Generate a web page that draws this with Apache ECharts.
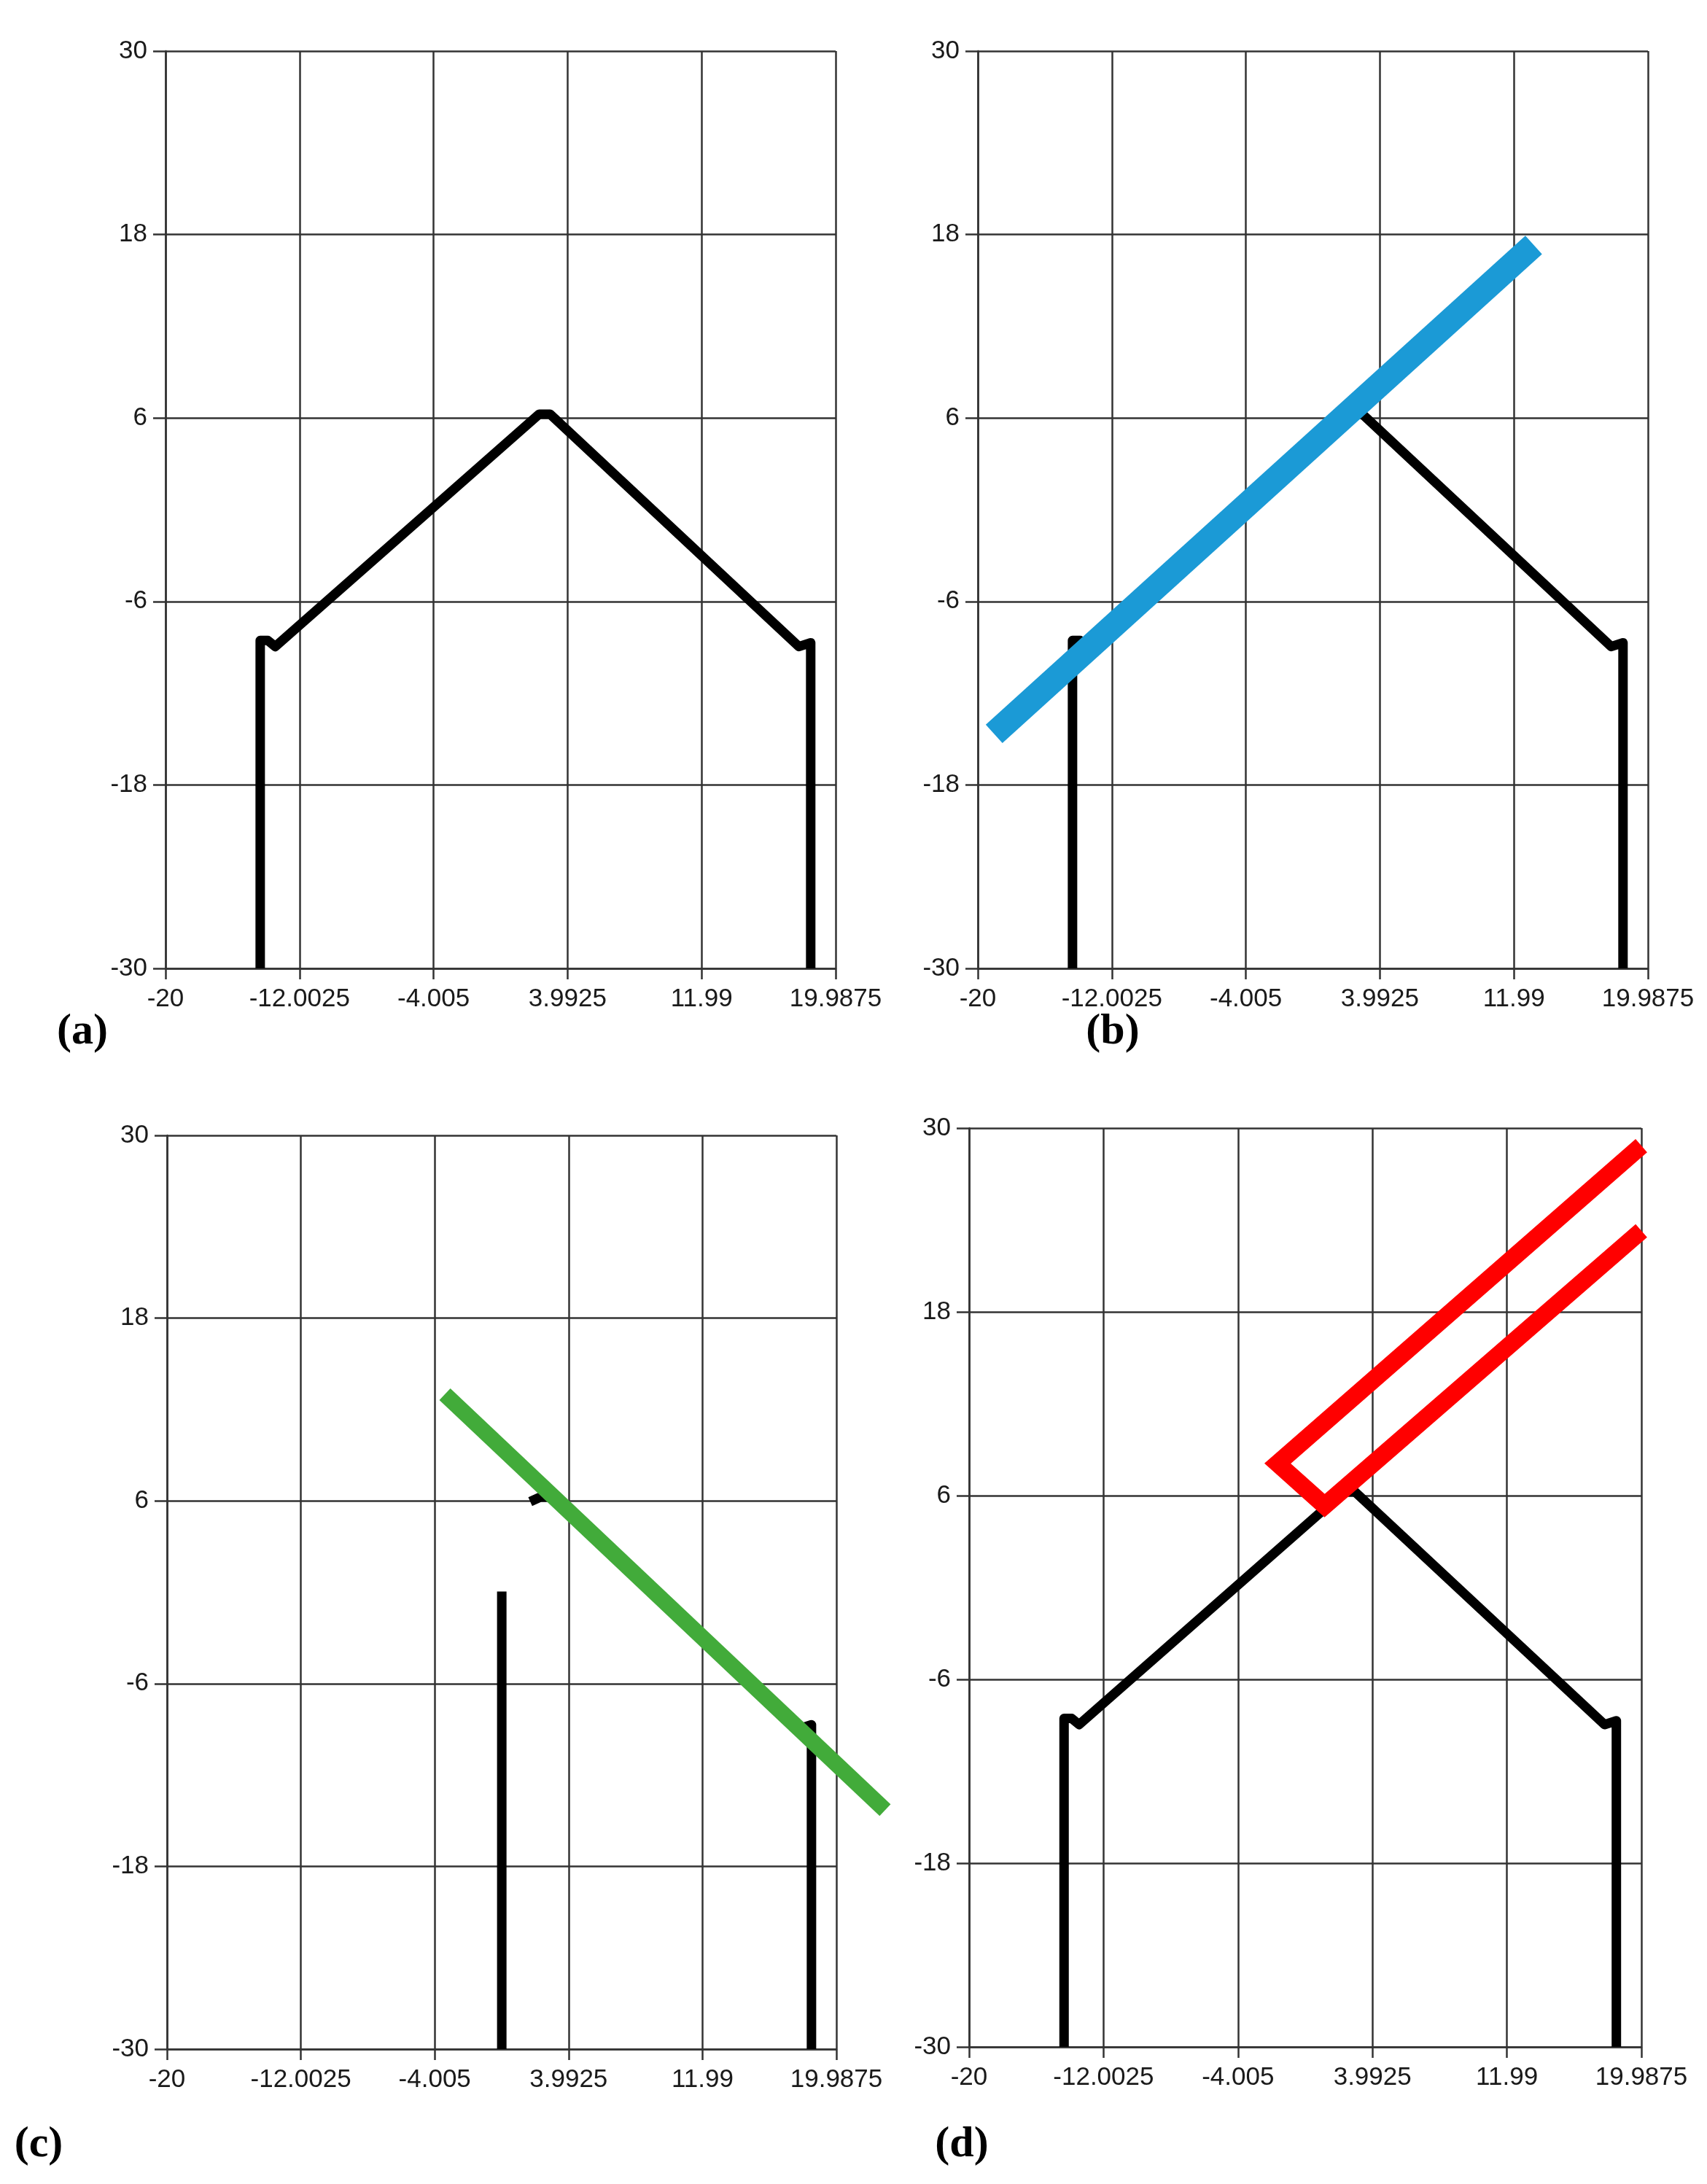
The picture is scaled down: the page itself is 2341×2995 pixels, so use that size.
<!DOCTYPE html>
<html>
<head>
<meta charset="utf-8">
<title>roof segments</title>
<script src="https://cdn.jsdelivr.net/npm/echarts@6/dist/echarts.min.js"></script>
<style>
    html, body { margin: 0; padding: 0; background: #fff; }
    #main { width: 2341px; height: 2995px; }
</style>
</head>
<body>
<div id="main"></div>
<script>
// ticks shared by all four panels
var xTicks = [-20, -12.0025, -4.005, 3.9925, 11.99, 19.9875];
var xTickLabels = ['-20', '-12.0025', '-4.005', '3.9925', '11.99', '19.9875'];
var yTicks = [-30, -18, -6, 6, 18, 30];
var yTickLabels = ['-30', '-18', '-6', '6', '18', '30'];
var panelNames = ['(a)', '(b)', '(c)', '(d)'];

// building outline (a, b, d)
var houseLine = [[-14.35, -30], [-14.35, -8.55], [-13.9, -8.55], [-13.45, -8.95], [2.3, 6.25], [2.95, 6.25], [17.8, -8.95], [18.5, -8.7], [18.5, -30]];
// (b) fitted segment
var blueLine = [[-19.03, -14.66], [13.17, 17.32]];
// (c) remaining pieces + fitted segment (runs past the plot edge)
var cPost = [[0, -30], [0, 0.05]];
var cRoof = [[1.7, 5.95], [2.3, 6.25], [2.95, 6.25], [17.8, -8.95], [18.5, -8.7], [18.5, -30]];
var greenLine = [[-3.4, 13.0], [22.9, -14.3]];
// (d) search strip
var redLine = [[19.9875, 28.85], [-1.65, 8.1], [1.15, 5.35], [19.9875, 23.3]];

var gridColor = '#333';
var labelColor = '#1a1a1a';

// pixel boxes of the four plots
var grids = [
    { left: 227, top: 70, width: 919, height: 1258 },
    { left: 1341, top: 70, width: 919, height: 1258 },
    { left: 229, top: 1557, width: 918, height: 1253 },
    { left: 1329, top: 1547, width: 922, height: 1260 }
];
var labelPos = [[113, 1415], [1526, 1415], [53, 2941], [1319, 2941]];

function makeXAxis (idx) {
    return {
        type: 'value',
        gridIndex: idx,
        min: xTicks[0],
        max: xTicks[xTicks.length - 1],
        axisLine: { onZero: false, lineStyle: { color: gridColor, width: 2.5 } },
        axisTick: { show: true, length: 15, customValues: xTicks, lineStyle: { color: gridColor, width: 2.5 } },
        axisLabel: {
            customValues: xTicks,
            margin: 25,
            fontSize: 35,
            fontFamily: 'Liberation Sans',
            color: labelColor,
            formatter: function (v) {
                var i = xTicks.indexOf(v);
                return i >= 0 ? xTickLabels[i] : String(v);
            }
        },
        splitLine: { show: true, lineStyle: { color: gridColor, width: 2.5 } }
    };
}

function makeYAxis (idx) {
    return {
        type: 'value',
        gridIndex: idx,
        min: yTicks[0],
        max: yTicks[yTicks.length - 1],
        axisLine: { show: true, onZero: false, lineStyle: { color: gridColor, width: 2.5 } },
        axisTick: { show: true, length: 17, customValues: yTicks, lineStyle: { color: gridColor, width: 2.5 } },
        axisLabel: {
            customValues: yTicks,
            margin: 25,
            fontSize: 35,
            fontFamily: 'Liberation Sans',
            color: labelColor,
            formatter: function (v) {
                var i = yTicks.indexOf(v);
                return i >= 0 ? yTickLabels[i] : String(v);
            }
        },
        splitLine: { show: true, lineStyle: { color: gridColor, width: 2.5 } }
    };
}

function lineSeries (idx, data, color, width, join) {
    return {
        type: 'line',
        xAxisIndex: idx,
        yAxisIndex: idx,
        data: data,
        showSymbol: false,
        symbol: 'none',
        silent: true,
        lineStyle: { color: color, width: width, cap: 'butt', join: join }
    };
}

// segment drawn through the axes but not clipped to the plot
function freeSegment (idx, seg, color, width) {
    return {
        type: 'custom',
        xAxisIndex: idx,
        yAxisIndex: idx,
        coordinateSystem: 'cartesian2d',
        clip: false,
        silent: true,
        z: 5,
        data: [seg[0].concat(seg[1])],
        encode: { x: [0, 2], y: [1, 3] },
        renderItem: function (params, api) {
            var p1 = api.coord([api.value(0), api.value(1)]);
            var p2 = api.coord([api.value(2), api.value(3)]);
            return {
                type: 'line',
                shape: { x1: p1[0], y1: p1[1], x2: p2[0], y2: p2[1] },
                style: { stroke: color, lineWidth: width, lineCap: 'butt', fill: null }
            };
        }
    };
}

var myChart = echarts.init(document.getElementById('main'), null, { renderer: 'canvas' });

var option = {
    animation: false,
    backgroundColor: '#fff',
    grid: grids.map(function (g) {
        return { left: g.left, top: g.top, width: g.width, height: g.height, containLabel: false, outerBoundsMode: 'none' };
    }),
    xAxis: [0, 1, 2, 3].map(makeXAxis),
    yAxis: [0, 1, 2, 3].map(makeYAxis),
    series: [
        lineSeries(0, houseLine, '#000', 13, 'round'),
        lineSeries(1, houseLine, '#000', 13, 'round'),
        lineSeries(1, blueLine, '#1b9ad6', 34, 'miter'),
        lineSeries(2, cPost, '#000', 13, 'round'),
        lineSeries(2, cRoof, '#000', 13, 'round'),
        freeSegment(2, greenLine, '#42ab3a', 22),
        lineSeries(3, houseLine, '#000', 13, 'round'),
        lineSeries(3, redLine, '#ff0000', 24, 'miter')
    ],
    graphic: panelNames.map(function (t, i) {
        return {
            type: 'text',
            x: labelPos[i][0],
            y: labelPos[i][1],
            style: {
                text: t,
                fontSize: 60,
                fontWeight: 'bold',
                fontFamily: 'Liberation Serif',
                fill: '#000',
                align: 'center',
                verticalAlign: 'middle'
            }
        };
    })
};

myChart.setOption(option);
</script>
</body>
</html>
